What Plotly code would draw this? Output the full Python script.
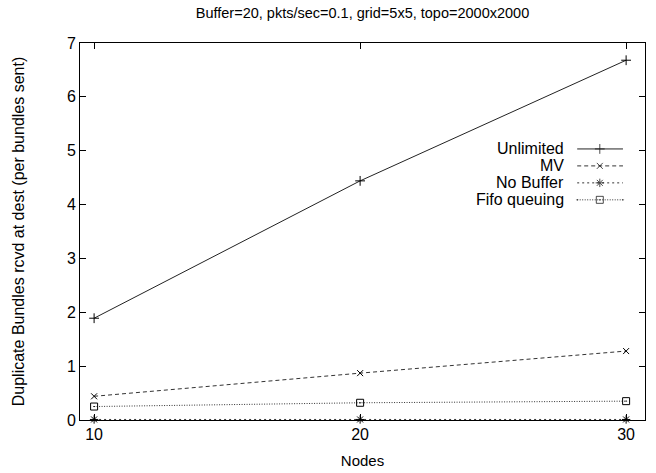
import plotly.graph_objects as go

nodes = [10, 20, 30]
unlimited = [1.89, 4.44, 6.68]
mv = [0.44, 0.87, 1.28]
no_buffer = [0.01, 0.01, 0.01]
fifo = [0.25, 0.32, 0.35]

series_names = ["Unlimited", "MV", "No Buffer", "Fifo queuing"]
series_values = [unlimited, mv, no_buffer, fifo]
dashes = ["solid", "4px,3px", "2px,3px", "1px,1.5px"]
symbols = ["cross-thin", "x-thin", "asterisk", "square-open-dot"]
sizes = [7, 6, 7, 7]
line_colors = ["#222222", "#333333", "#333333", "#333333"]

FONT = "Liberation Sans, Arial, sans-serif"

fig = go.Figure()
for name, vals, d, s, sz, c in zip(series_names, series_values, dashes, symbols, sizes, line_colors):
    fig.add_trace(go.Scatter(
        x=nodes, y=vals, mode="lines+markers", name=name, showlegend=False,
        line=dict(color=c, width=1, dash=d),
        marker=dict(symbol=s, size=sz, color="black", line=dict(color="black", width=1)),
        cliponaxis=False,
    ))

# custom gnuplot-style legend (text right-aligned, sample on the right)
leg_text_x = 0.860
leg_x0, leg_xm, leg_x1 = 0.880, 0.920, 0.961
leg_rows = [0.719, 0.674, 0.629, 0.584]
for name, d, s, sz, c, yy in zip(series_names, dashes, symbols, sizes, line_colors, leg_rows):
    fig.add_trace(go.Scatter(
        x=[leg_x0, leg_xm, leg_x1], y=[yy, yy, yy], xaxis="x2", yaxis="y2",
        mode="lines+markers", showlegend=False, hoverinfo="skip",
        line=dict(color=c, width=1, dash=d),
        marker=dict(symbol=s, size=[0, sz, 0], color="black", line=dict(color="black", width=1)),
    ))
    fig.add_annotation(x=leg_text_x, y=yy, xref="x2", yref="y2", text=name,
                       showarrow=False, xanchor="right", yanchor="middle",
                       font=dict(family=FONT, size=16, color="black"))

fig.update_layout(
    width=656, height=473,
    margin=dict(l=80, r=11, t=43, b=53),
    paper_bgcolor="white", plot_bgcolor="white",
    font=dict(family=FONT, color="black"),
    title=dict(text="Buffer=20, pkts/sec=0.1, grid=5x5, topo=2000x2000",
               x=0.5, xref="paper", xanchor="center", y=0.972, yanchor="middle",
               font=dict(family=FONT, size=14.5, color="black")),
    xaxis=dict(range=[9.47, 30.71], tickvals=nodes, ticktext=[str(n) for n in nodes],
               ticks="inside", ticklen=6, tickcolor="black", mirror="ticks",
               showline=True, linecolor="black", linewidth=1, showgrid=False, zeroline=False,
               automargin=False,
               tickfont=dict(size=16), title=dict(text="Nodes", font=dict(size=15), standoff=13)),
    yaxis=dict(range=[0, 7], tickvals=list(range(0, 8)),
               ticks="inside", ticklen=6, tickcolor="black", mirror="ticks",
               showline=True, linecolor="black", linewidth=1, showgrid=False, zeroline=False,
               automargin=False,
               tickfont=dict(size=16),
               title=dict(text="Duplicate Bundles rcvd at dest (per bundles sent)",
                          font=dict(size=16), standoff=38)),
    xaxis2=dict(range=[0, 1], overlaying="x", visible=False, fixedrange=True),
    yaxis2=dict(range=[0, 1], overlaying="y", visible=False, fixedrange=True),
)

fig.write_html("out.html", config={"displayModeBar": False},
               post_script="document.body.style.margin='0';")
